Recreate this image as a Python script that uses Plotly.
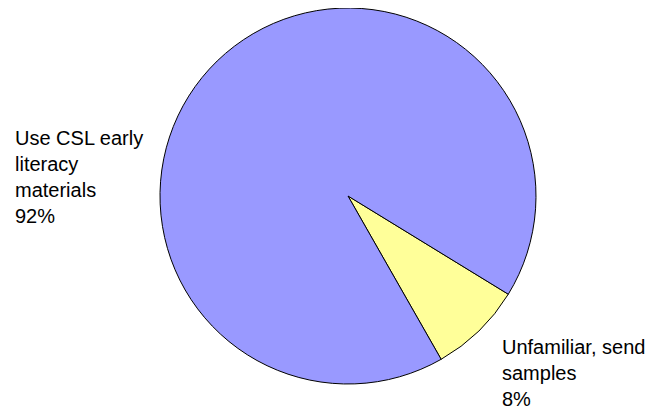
import plotly.graph_objects as go

labels = ["Unfamiliar, send samples", "Use CSL early literacy materials"]
label_lines = [["Unfamiliar, send", "samples"], ["Use CSL early", "literacy", "materials"]]
values = [8, 92]
colors = ["#FFFF99", "#9999FF"]

W, H = 655, 408
OFF = 8  # page body margin
cx, cy, r = 348 - OFF, 196 - OFF, 188

fig = go.Figure(go.Pie(
    labels=labels, values=values, sort=False, direction="clockwise",
    rotation=121.5, textinfo="none", hoverinfo="label+percent",
    marker=dict(colors=colors, line=dict(color="black", width=1)),
    domain=dict(x=[(cx - r) / W, (cx + r) / W], y=[1 - (cy + r) / H, 1 - (cy - r) / H]),
    showlegend=False,
))

total = sum(values)
FS = 20
LH = 26
starts = [(501, 354.5), (14, 145.5)]  # x left, first baseline (screen px)
for lines, v, (x0, b0) in zip(label_lines, values, starts):
    all_lines = lines + [f"{round(100 * v / total)}%"]
    for i, t in enumerate(all_lines):
        b = b0 + i * LH
        yc = b - 0.36 * FS - OFF
        fig.add_annotation(
            text=t, x=(x0 - OFF) / W, y=1 - yc / H,
            xref="paper", yref="paper", xanchor="left", yanchor="middle",
            align="left", showarrow=False, borderpad=0,
            font=dict(family="Liberation Sans, Arial", size=FS, color="black"),
        )

fig.update_layout(width=W, height=H, margin=dict(l=0, r=0, t=0, b=0),
                  paper_bgcolor="white", plot_bgcolor="white")
fig.write_html("out.html")
